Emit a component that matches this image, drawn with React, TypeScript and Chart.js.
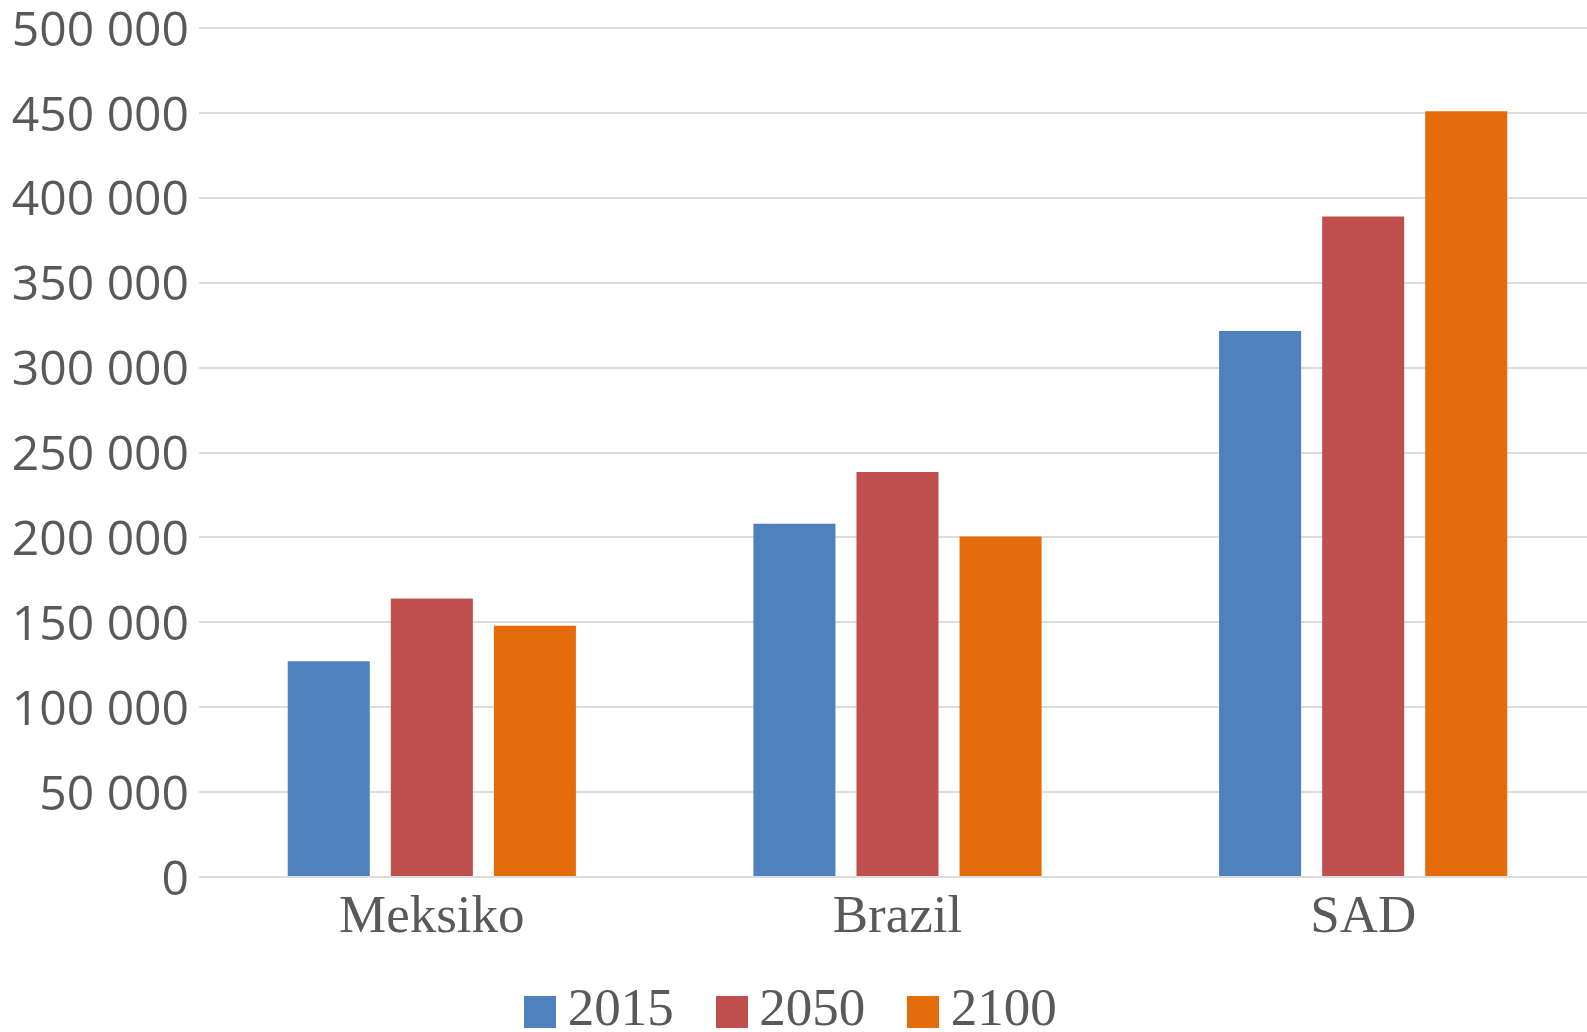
import React, { useEffect, useRef } from "react";
import { Chart, registerables } from "chart.js";

Chart.register(...registerables);

const categories = ["Meksiko", "Brazil", "SAD"];
const seriesLabels = ["2015", "2050", "2100"];
const values2015 = [127000, 208000, 321500];
const values2050 = [164000, 238500, 389000];
const values2100 = [148000, 200500, 451000];
const seriesColors = ["#4f81bd", "#c0504d", "#e46c0a"];
const yMin = 0;
const yMax = 500000;
const yStep = 50000;

const CANVAS_W = 1596;
const CANVAS_H = 1048;
const TEXT_COLOR = "#595959";
const SWATCH = 32;

function formatThousands(v: number): string {
  return String(v).replace(/\B(?=(\d{3})+(?!\d))/g, " ");
}

function makeSwatch(color: string): HTMLCanvasElement {
  const c = document.createElement("canvas");
  c.width = SWATCH;
  c.height = SWATCH;
  const g = c.getContext("2d");
  if (g) {
    g.fillStyle = color;
    g.fillRect(0, 0, SWATCH, SWATCH);
  }
  return c;
}

export default function App() {
  const ref = useRef<HTMLCanvasElement>(null);

  useEffect(() => {
    if (!ref.current) return;
    const seriesValues = [values2015, values2050, values2100];
    const swatches = seriesColors.map(makeSwatch);
    const defaultGen = (Chart as any).defaults.plugins.legend.labels.generateLabels;
    const chart = new Chart(ref.current, {
      type: "bar",
      data: {
        labels: categories,
        datasets: seriesLabels.map((label, i) => ({
          label,
          data: seriesValues[i],
          backgroundColor: seriesColors[i],
          borderWidth: 0,
          categoryPercentage: 0.664,
          barPercentage: 0.796,
        })),
      },
      options: {
        animation: false,
        responsive: false,
        devicePixelRatio: 1,
        layout: { padding: 0 },
        plugins: {
          tooltip: { enabled: false },
          title: { display: false },
          legend: {
            display: true,
            position: "bottom",
            labels: {
              usePointStyle: true,
              boxWidth: 2,
              boxHeight: SWATCH,
              padding: 57,
              color: TEXT_COLOR,
              font: { family: "'Liberation Serif', 'Times New Roman', serif", size: 53 },
              generateLabels: (c: any) =>
                defaultGen(c).map((item: any) => ({
                  ...item,
                  pointStyle: swatches[item.datasetIndex],
                })),
            },
          },
        },
        scales: {
          x: {
            grid: { display: false, drawTicks: false },
            border: { display: false },
            ticks: {
              color: TEXT_COLOR,
              padding: 9,
              font: { family: "'Liberation Serif', 'Times New Roman', serif", size: 53 },
            },
            afterFit: (scale: any) => {
              scale.height = 51;
              // let the category labels extend below the (short) axis box
              scale._computeLabelArea = () => undefined;
            },
          },
          y: {
            min: yMin,
            max: yMax,
            grid: { color: "#dcdcdc", lineWidth: 2, drawTicks: false },
            border: { display: false },
            ticks: {
              stepSize: yStep,
              color: TEXT_COLOR,
              padding: 10,
              labelOffset: 4,
              font: { family: "'Open Sans', sans-serif", size: 48 },
              callback: (v: any) => formatThousands(Number(v)),
            },
            afterFit: (scale: any) => {
              scale.width = 199;
              scale.paddingTop = 28;
              scale.paddingBottom = 0;
              scale._computeLabelArea = () => undefined;
            },
          },
        },
      },
    });
    return () => chart.destroy();
  }, []);

  return (
    <div
      style={{
        position: "fixed",
        left: 0,
        top: 0,
        width: "100vw",
        height: "100vh",
        overflow: "hidden",
        background: "#ffffff",
      }}
    >
      <canvas
        ref={ref}
        width={CANVAS_W}
        height={CANVAS_H}
        style={{ display: "block", width: CANVAS_W, height: CANVAS_H }}
      />
    </div>
  );
}
